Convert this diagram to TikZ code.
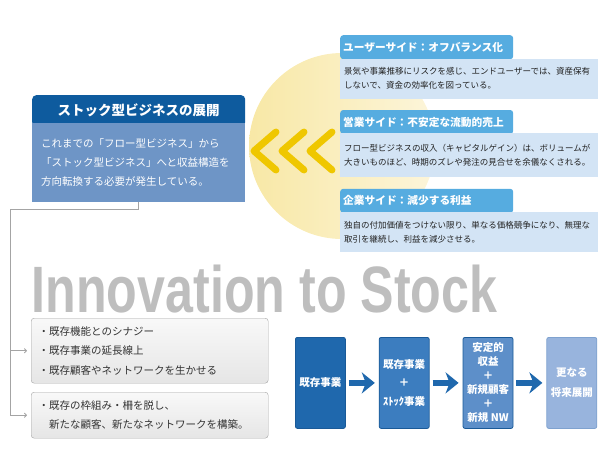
\documentclass[tikz,border=0pt]{standalone}
\usepackage{fontspec}
\setmainfont{Noto Sans CJK JP}
\newfontfamily\mottofont{Liberation Sans}
\usepackage{graphicx}
\usetikzlibrary{positioning,arrows.meta}
\usepackage{xcolor}
\definecolor{NavyTitle}{HTML}{0E5B9E}
\definecolor{MidBlue}{HTML}{6E95C6}
\definecolor{SkyTab}{HTML}{56ACE0}
\definecolor{PaleSky}{HTML}{D3E4F5}
\definecolor{Sun}{HTML}{EFC700}
\definecolor{SunHalo}{HTML}{F8E8A6}
\definecolor{SunFade}{HTML}{FCF5DA}
\definecolor{Ink}{HTML}{222222}
\definecolor{Slate}{HTML}{333333}
\definecolor{Rail}{HTML}{A4A4A4}
\definecolor{Motto}{HTML}{BEBEBE}
\definecolor{FlowA}{HTML}{1F68AD}
\definecolor{FlowB}{HTML}{3C7DBF}
\definecolor{FlowC}{HTML}{5D8FC9}
\definecolor{FlowD}{HTML}{98B4DD}
\definecolor{FlowEdge}{HTML}{1A5A98}

\begin{document}
\begin{tikzpicture}[
      x=1pt, y=-1pt,
      node distance=33pt,
      ltitle/.style={fill=NavyTitle, rounded corners=4pt, text=white, anchor=north west, minimum width=213pt, minimum height=31pt, inner sep=0pt, font=\bfseries\fontsize{13.5}{16}\selectfont},
      lbody/.style={fill=MidBlue, anchor=north west, minimum width=213pt, minimum height=79pt, text width=195pt, align=left, text=white, font=\fontsize{10.5}{19}\selectfont},
      rtab/.style={fill=SkyTab, rounded corners=3pt, text=white, anchor=north west, minimum width=173pt, minimum height=24pt, inner sep=0pt, text width=167pt, align=left, font=\bfseries\fontsize{10.7}{13}\selectfont},
      rbody/.style={fill=PaleSky, anchor=north west, minimum width=258pt, text width=250pt, align=left, text=Ink, font=\fontsize{8.5}{13.8}\selectfont},
      graybox/.style={draw=Rail, top color=gray!5, bottom color=gray!20, rounded corners=3pt, anchor=north west, minimum width=237pt, text width=222pt, align=left, text=Slate, font=\fontsize{10.5}{19.5}\selectfont},
      conn/.style={draw=Rail, line width=0.9pt},
      chevron/.style={draw=Sun, line width=7pt, line cap=round, line join=round},
      flowbox/.style={rounded corners=2pt, draw=FlowEdge, line width=0.8pt, minimum width=50pt, minimum height=91pt, inner sep=0pt, align=center, text=white, font=\bfseries\fontsize{10.5}{14}\selectfont},
      flowarrow/.style={draw=FlowA, line width=6.5pt, shorten <=3pt, shorten >=4pt, -{Stealth[length=13pt,width=21pt,inset=4pt]}}
    ]
    \useasboundingbox (0,0) rectangle (614,461);

    \shade[left color=SunHalo, right color=SunFade] (342,146) circle (93);
    \foreach \tx in {254,282,310}
      \draw[chevron] (\tx+22,132) -- (\tx,151) -- (\tx+22,170);

    \node[ltitle] (ltitle) at (32,95) {ストック型ビジネスの展開};
    \node[lbody] (lbody) at (32,123) {これまでの「フロー型ビジネス」から\\「ストック型ビジネス」へと収益構造を\\方向転換する必要が発生している。};

    \node[rtab] (tabuser) at (340,35) {ユーザーサイド：オフバランス化};
    \node[rbody, minimum height=40pt, below=-1pt of tabuser.south west, anchor=north west] (bodyuser) {景気や事業推移にリスクを感じ、エンドユーザーでは、資産保有\\しないで、資金の効率化を図っている。};
    \node[rtab, below=11pt of bodyuser.south west, anchor=north west] (tabsales) {営業サイド：不安定な流動的売上};
    \node[rbody, minimum height=44pt, below=-1pt of tabsales.south west, anchor=north west] (bodysales) {フロー型ビジネスの収入（キャピタルゲイン）は、ボリュームが\\大きいものほど、時期のズレや発注の見合せを余儀なくされる。};
    \node[rtab, below=11pt of bodysales.south west, anchor=north west] (tabfirm) {企業サイド：減少する利益};
    \node[rbody, minimum height=40pt, below=-1pt of tabfirm.south west, anchor=north west] (bodyfirm) {独自の付加価値をつけない限り、単なる価格競争になり、無理な\\取引を継続し、利益を減少させる。};

    \node[anchor=base] (motto) at (264.5,312) {\mottofont\bfseries\color{Motto}\fontsize{65.6}{70}\selectfont\scalebox{0.765}[1]{Innovation to Stock}};

    \node[graybox, minimum height=65pt] (synergy) at (31,318) {・既存機能とのシナジー\\・既存事業の延長線上\\・既存顧客やネットワークを生かせる};
    \node[graybox, minimum height=46pt] (newnet) at (31,392) {・既存の枠組み・柵を脱し、\\　新たな顧客、新たなネットワークを構築。};

    \coordinate (bend) at (10,209);
    \draw[conn] (lbody.south) |- (bend);
    \draw[conn, -{To[length=3pt,width=5pt]}, shorten >=4pt] (bend) |- (newnet.west);
    \draw[conn, -{To[length=3pt,width=5pt]}, shorten >=4pt] (bend |- synergy.west) -- (synergy.west);

    \node[flowbox, fill=FlowA, anchor=north west] (now) at (295,337) {既存事業};
    \node[flowbox, fill=FlowB, right=of now] (plus) {既存事業\\[4.5pt]＋\\[4.5pt]ｽﾄｯｸ事業};
    \node[flowbox, fill=FlowC, right=of plus] (stable) {安定的\\収益\\＋\\新規顧客\\＋\\新規 NW};
    \node[flowbox, fill=FlowD, draw=FlowD!80!FlowEdge, right=of stable] (future) {更なる\\[6pt]将来展開};

    \draw[flowarrow] (now) -- (plus);
    \draw[flowarrow] (plus) -- (stable);
    \draw[flowarrow] (stable) -- (future);
  \end{tikzpicture}
\end{document}
